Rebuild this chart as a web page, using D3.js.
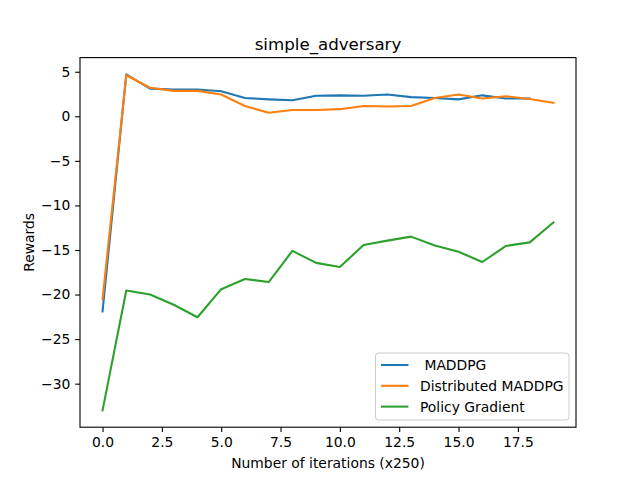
<!DOCTYPE html>
<html>
<head>
<meta charset="utf-8">
<script src="https://cdn.jsdelivr.net/npm/d3@7"></script>
<style>
  body { margin: 0; background: #fff; }
  text { font-family: "DejaVu Sans", sans-serif; }
</style>
</head>
<body>
<div id="chart"></div>
<script>
// rewards per iteration block (x250)
var maddpg = [-21.9, 4.7, 3.1, 3.0, 3.0, 2.8, 2.05, 1.9, 1.8, 2.3, 2.35, 2.3, 2.45, 2.15, 2.05, 1.9, 2.35, 2.0, 2.0];
var distributed = [-20.5, 4.6, 3.2, 2.85, 2.85, 2.45, 1.15, 0.4, 0.7, 0.7, 0.8, 1.15, 1.1, 1.15, 2.05, 2.45, 2.0, 2.25, 1.95, 1.5];
var policyGradient = [-33.0, -19.55, -20.0, -21.15, -22.55, -19.4, -18.25, -18.6, -15.1, -16.45, -16.9, -14.45, -13.95, -13.5, -14.5, -15.2, -16.35, -14.55, -14.15, -11.9];

var seriesNames = [' MADDPG', 'Distributed MADDPG', 'Policy Gradient'];
var xTicks = [0, 2.5, 5, 7.5, 10, 12.5, 15, 17.5];
var yTicks = [5, 0, -5, -10, -15, -20, -25, -30];

var _colors = ['#1f77b4', '#ff7f0e', '#2ca02c'];

var width = 640, height = 480;
var margin = {left: 80, right: 64, top: 57.6, bottom: 52.8};
var fontSize = '13.89px';

var svg = d3.select('#chart').append('svg')
    .attr('width', width)
    .attr('height', height);

var series = [maddpg, distributed, policyGradient];
var allVals = d3.merge(series);
var maxLen = d3.max(series, function(s){ return s.length; });
var xPad = (maxLen - 1) * 0.05;
var yMin = d3.min(allVals), yMax = d3.max(allVals);
var yPad = (yMax - yMin) * 0.05;

var x = d3.scaleLinear()
    .domain([-xPad, maxLen - 1 + xPad])
    .range([margin.left, width - margin.right]);
var y = d3.scaleLinear()
    .domain([yMin - yPad, yMax + yPad])
    .range([height - margin.bottom, margin.top]);

var fmtX = function(d){ return d3.format('.1f')(d).replace('-', '\u2212'); };
var fmtY = function(d){ return String(d).replace('-', '\u2212'); };

var xAxis = svg.append('g')
    .attr('transform', 'translate(0,' + (height - margin.bottom) + ')')
    .call(d3.axisBottom(x).tickValues(xTicks).tickFormat(fmtX).tickSizeOuter(0).tickSize(4.86).tickPadding(4.86));
var yAxis = svg.append('g')
    .attr('transform', 'translate(' + margin.left + ',0)')
    .call(d3.axisLeft(y).tickValues(yTicks).tickFormat(fmtY).tickSizeOuter(0).tickSize(4.86).tickPadding(4.86));

[xAxis, yAxis].forEach(function(a){
    a.select('.domain').remove();
    a.selectAll('line').attr('stroke', '#000').attr('stroke-width', 1.1);
    a.selectAll('text')
        .attr('font-size', fontSize)
        .attr('font-family', 'DejaVu Sans')
        .attr('fill', '#000');
});

// lines
var line = d3.line()
    .x(function(d, i){ return x(i); })
    .y(function(d){ return y(d); });

svg.selectAll('path.series')
    .data(series)
    .enter().append('path')
        .attr('class', 'series')
        .attr('fill', 'none')
        .attr('stroke', function(d, i){ return _colors[i]; })
        .attr('stroke-width', 2.08)
        .attr('stroke-linejoin', 'round')
        .attr('stroke-linecap', 'square')
        .attr('d', line);

// frame
svg.append('rect')
    .attr('x', margin.left)
    .attr('y', margin.top)
    .attr('width', width - margin.left - margin.right)
    .attr('height', height - margin.top - margin.bottom)
    .attr('fill', 'none')
    .attr('stroke', '#000')
    .attr('stroke-width', 1.1);

// title and labels
svg.append('text')
    .attr('x', (margin.left + width - margin.right) / 2)
    .attr('y', 50)
    .attr('text-anchor', 'middle')
    .attr('font-size', '16.67px')
    .text('simple_adversary');

svg.append('text')
    .attr('x', (margin.left + width - margin.right) / 2)
    .attr('y', 468)
    .attr('text-anchor', 'middle')
    .attr('font-size', fontSize)
    .text('Number of iterations (x250)');

svg.append('text')
    .attr('transform', 'translate(34,' + ((margin.top + height - margin.bottom) / 2) + ') rotate(-90)')
    .attr('text-anchor', 'middle')
    .attr('font-size', fontSize)
    .text('Rewards');

// legend
var legend = svg.append('g').attr('transform', 'translate(375.5,353)');
legend.append('rect')
    .attr('width', 193.5)
    .attr('height', 67)
    .attr('rx', 3)
    .attr('fill', '#fff')
    .attr('fill-opacity', 0.8)
    .attr('stroke', '#cccccc')
    .attr('stroke-width', 1);

var items = legend.selectAll('g.item')
    .data(seriesNames)
    .enter().append('g')
        .attr('class', 'item')
        .attr('transform', function(d, i){ return 'translate(0,' + (12 + i * 20.8) + ')'; });
items.append('line')
    .attr('x1', 5.5).attr('x2', 33)
    .attr('stroke', function(d, i){ return _colors[i]; })
    .attr('stroke-width', 2.08);
items.append('text')
    .attr('x', 44.5)
    .attr('y', 5)
    .attr('font-size', fontSize)
    .attr('xml:space', 'preserve')
    .style('white-space', 'pre')
    .text(function(d){ return d; });
</script>
</body>
</html>
